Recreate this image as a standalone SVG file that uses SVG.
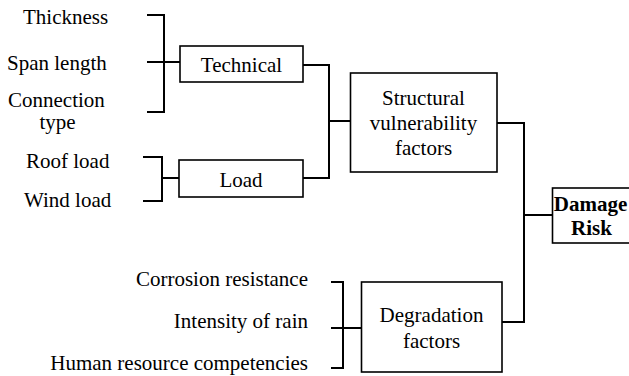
<svg xmlns="http://www.w3.org/2000/svg" width="629" height="376" viewBox="0 0 629 376">
  <style>
    .box { fill: #fff; stroke: #000; stroke-width: 1.6; }
    .wire { fill: none; stroke: #000; stroke-width: 2; stroke-linecap: square; stroke-linejoin: miter; }
    text { font-family: "Liberation Serif", Tinos, "Times New Roman", serif; font-size: 21px; fill: #000; }
    .c { text-anchor: middle; }
    .r { text-anchor: end; }
    .b { font-weight: bold; }
  </style>
  <rect width="629" height="376" fill="#fff"/>

  <!-- connectors -->
  <g id="connectors" class="wire">
    <!-- technical inputs bracket -->
    <path d="M148 15 H164 V112 H148"/>
    <path d="M148 62 H180"/>
    <!-- load inputs bracket -->
    <path d="M144 157 H162 V201 H144"/>
    <path d="M162 178 H179"/>
    <!-- technical + load to structural -->
    <path d="M303 65 H329 V178 H303"/>
    <path d="M329 121 H350"/>
    <!-- degradation inputs bracket -->
    <path d="M332 282 H343 V368 H332"/>
    <path d="M332 328 H361"/>
    <!-- structural + degradation to damage risk -->
    <path d="M497 123 H524 V322 H502"/>
    <path d="M524 215 H552"/>
  </g>

  <!-- input labels -->
  <g id="inputs">
    <text x="23" y="24">Thickness</text>
    <text x="7" y="70">Span length</text>
    <text x="8" y="107">Connection</text>
    <text x="57.5" y="129" class="c">type</text>
    <text x="26" y="168">Roof load</text>
    <text x="24" y="207">Wind load</text>
    <text x="308" y="286" class="r">Corrosion resistance</text>
    <text x="308" y="328" class="r">Intensity of rain</text>
    <text x="308" y="370" class="r">Human resource competencies</text>
  </g>

  <g id="technical">
    <rect class="box" x="180" y="46" width="123" height="36"/>
    <text x="241.5" y="72" class="c">Technical</text>
  </g>

  <g id="load">
    <rect class="box" x="179" y="160" width="124" height="37"/>
    <text x="241" y="187" class="c">Load</text>
  </g>

  <g id="structural">
    <rect class="box" x="350.5" y="73" width="146.5" height="99"/>
    <text x="423.5" y="105" class="c">Structural</text>
    <text x="423.5" y="130" class="c">vulnerability</text>
    <text x="423.5" y="155" class="c">factors</text>
  </g>

  <g id="degradation">
    <rect class="box" x="361.5" y="282" width="140.5" height="90"/>
    <text x="431.5" y="322" class="c">Degradation</text>
    <text x="431.5" y="348" class="c">factors</text>
  </g>

  <g id="damage-risk">
    <rect class="box" x="552.5" y="188" width="80" height="55"/>
    <text x="590.5" y="211" class="c b">Damage</text>
    <text x="591.5" y="235" class="c b">Risk</text>
  </g>
</svg>
